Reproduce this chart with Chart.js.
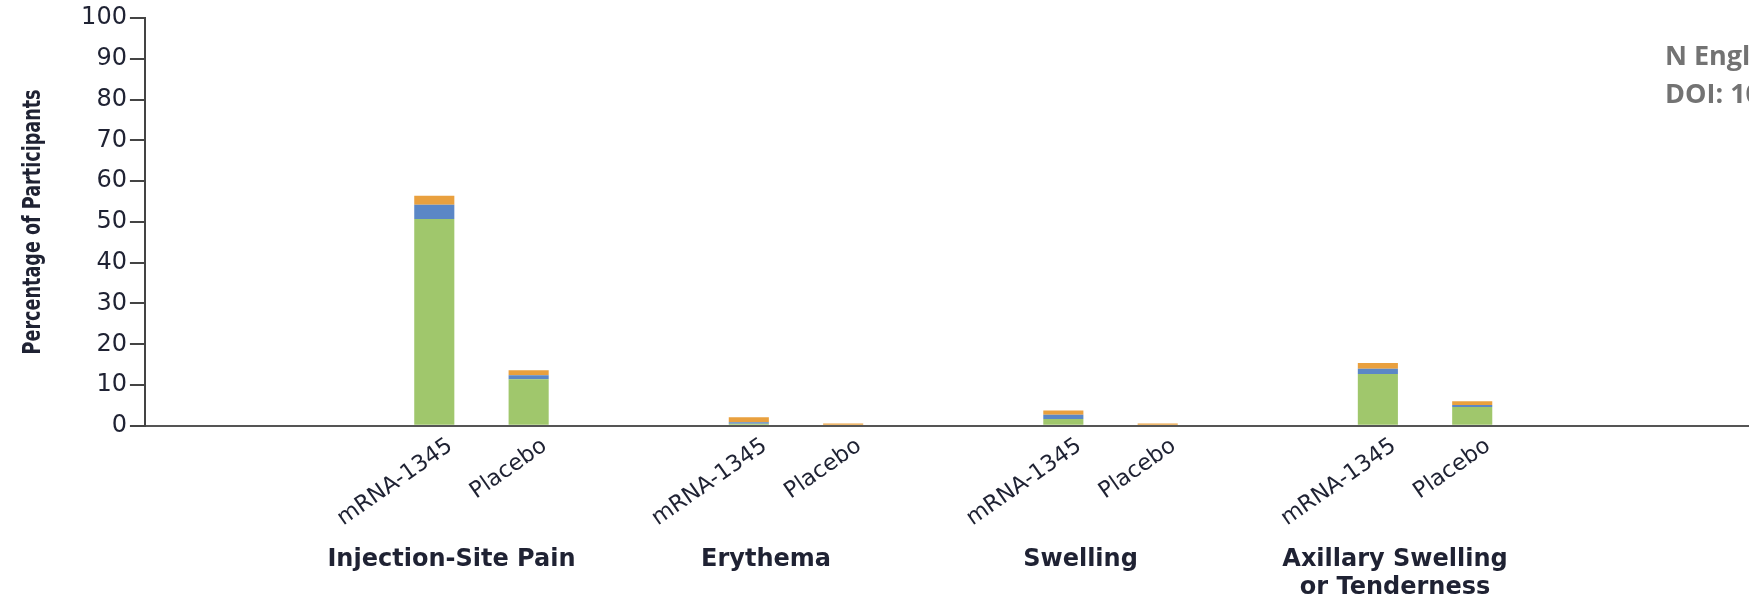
<!DOCTYPE html>
<html>
<head>
<meta charset="utf-8">
<script src="https://cdn.jsdelivr.net/npm/chart.js@4"></script>
<style>
  html, body { margin: 0; padding: 0; background: #fff; overflow: hidden; }
  #wrap { position: relative; width: 1749px; height: 602px; overflow: hidden; }
  #source {
    position: absolute; left: 1665px; top: 36px;
    font: bold 27px 'Open Sans', sans-serif; line-height: 38px;
    color: #737373; white-space: nowrap;
  }
</style>
</head>
<body>
<div id="wrap">
  <canvas id="chart"></canvas>
  <div id="source">N Engl J Med<br>DOI: 10</div>
</div>
<script>
const groups = ['Injection-Site Pain', 'Erythema', 'Swelling', ['Axillary Swelling', 'or Tenderness']];
const arms = ['mRNA-1345', 'Placebo'];
const grades = ['Grade 1', 'Grade 2', 'Grade 3'];
const yTicks = [0, 10, 20, 30, 40, 50, 60, 70, 80, 90, 100];
const yTitle = 'Percentage of Participants';

// percent of participants, one value per group
const vaccineGrade1 = [50.7, 0.5, 1.7, 12.7];
const vaccineGrade2 = [3.5, 0.4, 1.0, 1.3];
const vaccineGrade3 = [2.2, 1.2, 1.05, 1.4];
const placeboGrade1 = [11.4, 0, 0, 4.6];
const placeboGrade2 = [1.0, 0, 0, 0.5];
const placeboGrade3 = [1.2, 0.6, 0.6, 0.9];

const gradeColors = ['#a0c76c', '#5b87c6', '#e9a03e'];
const textColor = '#1f2233';

const series = [
    { arm: 0, grade: 0, values: vaccineGrade1 },
    { arm: 0, grade: 1, values: vaccineGrade2 },
    { arm: 0, grade: 2, values: vaccineGrade3 },
    { arm: 1, grade: 0, values: placeboGrade1 },
    { arm: 1, grade: 1, values: placeboGrade2 },
    { arm: 1, grade: 2, values: placeboGrade3 }
];

// slanted arm names under every bar
const armLabels = {
    id: 'armLabels',
    afterDatasetsDraw(chart) {
        const { ctx, chartArea } = chart;
        ctx.save();
        ctx.font = '22.5px "DejaVu Sans", sans-serif';
        ctx.fillStyle = textColor;
        ctx.textAlign = 'right';
        ctx.textBaseline = 'middle';
        [0, 3].forEach((dsIndex, a) => {
            chart.getDatasetMeta(dsIndex).data.forEach(bar => {
                ctx.save();
                ctx.translate(bar.x + 16, chartArea.bottom + 18);
                ctx.rotate(-35 * Math.PI / 180);
                ctx.fillText(arms[a], 0, 0);
                ctx.restore();
            });
        });
        ctx.restore();
    }
};

// axis title in a tall, narrow bold face; the scale's own title only holds the space
const tallTitle = {
    id: 'tallTitle',
    afterDraw(chart) {
        const { ctx, chartArea } = chart;
        const y = chart.scales.y;
        ctx.save();
        ctx.translate(y.left + 11, (chartArea.top + chartArea.bottom) / 2);
        ctx.rotate(-Math.PI / 2);
        ctx.scale(1, 1.45);
        ctx.font = 'bold 17.6px "DejaVu Sans", sans-serif';
        ctx.fillStyle = textColor;
        ctx.textAlign = 'center';
        ctx.textBaseline = 'middle';
        ctx.fillText(yTitle, 0, 0);
        ctx.restore();
    }
};

new Chart(document.getElementById('chart'), {
    type: 'bar',
    data: {
        datasets: series.map(s => ({
            label: arms[s.arm] + ' ' + grades[s.grade],
            stack: arms[s.arm],
            backgroundColor: gradeColors[s.grade],
            borderWidth: 0,
            categoryPercentage: 0.6,
            barPercentage: 0.425,
            data: s.values.map((v, i) => ({ x: i + 1, y: v }))
        }))
    },
    options: {
        responsive: true,
        maintainAspectRatio: false,
        animation: false,
        // the group names hang far below the axis, so the x box runs past the bottom edge
        layout: { padding: { top: 18, left: 22, right: 0, bottom: -120 } },
        plugins: {
            legend: { display: false },
            tooltip: { enabled: false }
        },
        scales: {
            x: {
                type: 'linear',
                bounds: 'data',
                offset: false,
                min: -0.07,
                max: 5.03,
                afterBuildTicks: scale => {
                    scale.ticks = groups.map((g, i) => ({ value: i + 1 }));
                },
                grid: { display: false, drawTicks: false, offset: false },
                border: { color: '#555', width: 2 },
                ticks: {
                    callback: (v, i) => groups[i],
                    padding: 120,
                    labelOffset: -30,
                    maxRotation: 0,
                    autoSkip: false,
                    color: textColor,
                    font: { family: 'DejaVu Sans', size: 24, weight: 'bold', lineHeight: 1.17 }
                }
            },
            y: {
                stacked: true,
                min: 0,
                max: 100,
                afterBuildTicks: scale => {
                    scale.ticks = yTicks.map(v => ({ value: v }));
                },
                grid: { drawOnChartArea: false, tickLength: 15, color: '#444', lineWidth: 2 },
                border: { color: '#444', width: 2 },
                ticks: {
                    padding: 3,
                    autoSkip: false,
                    color: textColor,
                    font: { family: 'DejaVu Sans', size: 24 }
                },
                title: {
                    display: true,
                    text: yTitle,
                    color: 'rgba(0,0,0,0)',
                    padding: { top: 0, bottom: 35 },
                    font: { family: 'DejaVu Sans', size: 17.6, weight: 'bold' }
                }
            }
        }
    },
    plugins: [armLabels, tallTitle]
});
</script>
</body>
</html>
